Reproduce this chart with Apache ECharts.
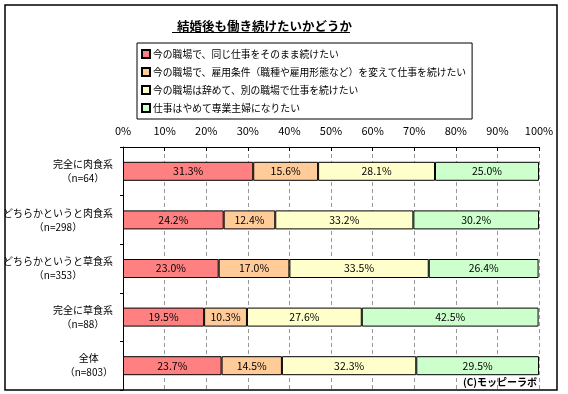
<!DOCTYPE html>
<html><head><meta charset="utf-8">
<script src="https://cdn.jsdelivr.net/npm/echarts@6/dist/echarts.min.js"></script>
<style>html,body{margin:0;padding:0;background:#fff}#c{width:568px;height:394px}</style>
</head><body><div id="c"></div>
<script>
const titleText = '結婚後も働き続けたいかどうか';
const categories = ['完全に肉食系', 'どちらかというと肉食系', 'どちらかというと草食系', '完全に草食系', '全体'];
const sampleSizes = ['（n=64）', '（n=298）', '（n=353）', '（n=88）', '（n=803）'];
const seriesNames = [
  '今の職場で、同じ仕事をそのまま続けたい',
  '今の職場で、雇用条件（職種や雇用形態など）を変えて仕事を続けたい',
  '今の職場は辞めて、別の職場で仕事を続けたい',
  '仕事はやめて専業主婦になりたい'
];
const sameJob = [31.3, 24.2, 23.0, 19.5, 23.7];
const changedTerms = [15.6, 12.4, 17.0, 10.3, 14.5];
const otherWorkplace = [28.1, 33.2, 33.5, 27.6, 32.3];
const housewife = [25.0, 30.2, 26.4, 42.5, 29.5];
const seriesValues = [sameJob, changedTerms, otherWorkplace, housewife];
const colors = ['#FF8080', '#FFCC99', '#FFFFCC', '#CCFFCC'];
const copyright = '(C)モッピーラボ';

const FONT = '"Noto Sans CJK JP", sans-serif';
const chart = echarts.init(document.getElementById('c'));
chart.setOption({
  animation: false,
  backgroundColor: '#fff',
  textStyle: { fontFamily: FONT, color: '#000' },
  title: {
    text: titleText, left: 172, top: 15,
    textStyle: { fontSize: 12.5, fontWeight: 'bold', color: '#000', fontFamily: FONT }
  },
  legend: {
    orient: 'vertical', left: 137, top: 43,
    itemWidth: 8, itemHeight: 8, itemGap: 6,
    padding: [5, 6, 5, 4],
    borderColor: '#000', borderWidth: 1,
    icon: 'rect',
    textStyle: { fontSize: 9.8, color: '#000', fontFamily: FONT, lineHeight: 12, padding: [0, 0, 0, -2] },
    data: seriesNames
  },
  grid: { left: 122, top: 147, right: 29, bottom: 4, containLabel: false },
  xAxis: {
    type: 'value', position: 'top', min: 0, max: 100, interval: 10,
    axisLine: { show: true, lineStyle: { color: '#000', width: 1 } },
    axisTick: { show: true, inside: true, length: 4, lineStyle: { color: '#000' } },
    axisLabel: { formatter: '{value}%', fontSize: 11, color: '#000', margin: 11, fontFamily: FONT },
    splitLine: { show: true, lineStyle: { color: '#999', type: [4, 3], width: 1 } }
  },
  yAxis: {
    type: 'category', inverse: true, data: categories,
    axisLine: { show: true, lineStyle: { color: '#000', width: 1 } },
    axisTick: { show: true, length: 3, lineStyle: { color: '#000' } },
    axisLabel: {
      margin: 10, fontSize: 10, color: '#000', lineHeight: 14,
      formatter: (v, i) => '{a|' + v + '}\n{b|' + sampleSizes[i] + '}',
      rich: {
        a: { fontSize: 10, lineHeight: 14, align: 'center', fontFamily: FONT, color: '#000' },
        b: { fontSize: 10, lineHeight: 14, align: 'center', fontFamily: FONT, color: '#000' }
      }
    },
    splitLine: { show: false }
  },
  series: seriesValues.map((vals, k) => ({
    name: seriesNames[k], type: 'bar', stack: 'total', barWidth: 19,
    data: vals,
    itemStyle: { color: colors[k], borderColor: '#000', borderWidth: 1 },
    label: {
      show: true, position: 'inside', fontSize: 10.5, color: '#000', fontFamily: FONT,
      formatter: p => p.value.toFixed(1) + '%'
    }
  })),
  graphic: [
    { type: 'rect', shape: { x: 5, y: 5, width: 552, height: 385 }, style: { fill: 'none', stroke: '#000', lineWidth: 1.5 }, silent: true, z: 100 },
    { type: 'line', shape: { x1: 172, y1: 32.5, x2: 350, y2: 32.5 }, style: { stroke: '#000', lineWidth: 1 } },
    { type: 'text', right: 31, bottom: 7, style: { text: copyright, font: 'bold 10px ' + FONT, fill: '#000' }, z: 100 }
  ]
});
</script></body></html>
